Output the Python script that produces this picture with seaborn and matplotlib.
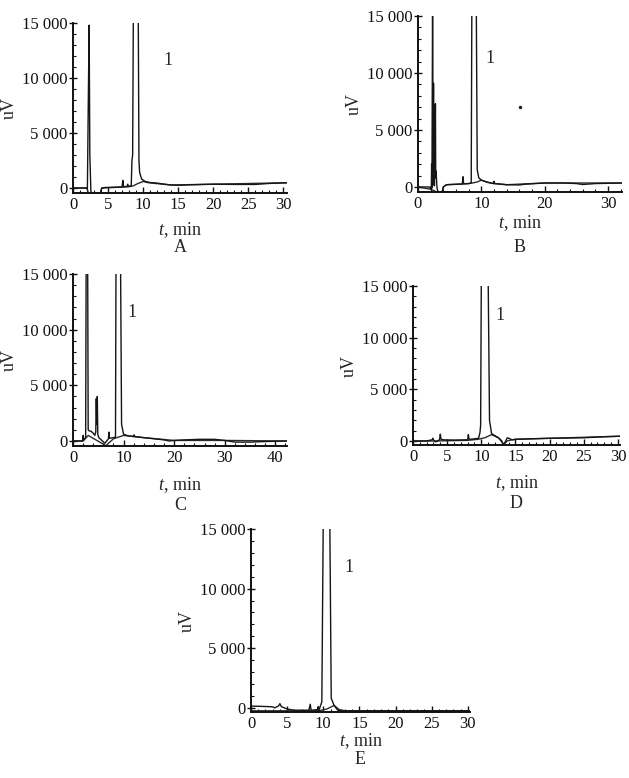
import matplotlib
matplotlib.use("Agg")
import matplotlib.pyplot as plt
import seaborn as sns
from matplotlib.ticker import MultipleLocator, FixedLocator

# ---- chromatogram traces (time in min, signal in uV) ----
# A
a_time = [0, 1.9, 2.05, 2.2, 2.3, 2.4, 2.55, 2.7, 3.9, 4.1, 4.5, 6.0, 7.0, 7.1, 7.2, 7.7, 7.8, 7.9,
          8.3, 8.4, 8.5, 8.6, 9.3, 9.4, 9.5, 9.8, 10.3, 11, 12, 13, 14, 15, 17, 20, 23, 26, 28, 30.5]
a_signal = [0, 0, -100, 9000, 14800, 3000, -300, -480, -480, 0, 50, 80, 100, 700, 120, 150, 350, 150,
            200, 2500, 3000, 16000, 16000, 2500, 1400, 800, 600, 500, 450, 350, 280, 250, 300, 350, 330, 330, 420, 480]
a_blank_time = [0, 2.0, 2.2, 2.6, 3.9, 4.1, 7.5, 8.0, 8.6, 9.2, 10.0, 10.6, 11.5, 14, 20, 30.5]
a_blank = [0, 0, -480, -480, -480, 0, 100, 120, 200, 400, 600, 500, 430, 280, 350, 480]

# B
b_time = [0, 1.9, 2.0, 2.1, 2.15, 2.2, 2.3, 2.4, 2.45, 2.5, 2.6, 2.75, 2.8, 2.85, 3.0, 3.2, 3.8, 4.0,
          4.5, 6.5, 7.0, 7.1, 7.2, 8.0, 8.4, 8.5, 9.2, 9.35, 9.6, 10, 11, 11.9, 12.0, 12.1, 14, 16, 17,
          20, 23, 25, 26, 28, 32.2]
b_signal = [0, 0, -200, -200, 2000, -100, 16000, 300, 9100, 200, 100, 7300, 800, 1400, -100, -480, -480, 0,
            200, 250, 260, 900, 280, 300, 350, 16000, 16000, 1500, 800, 600, 400, 300, 500, 300, 200, 180, 250,
            350, 350, 300, 220, 300, 350]
b_blank_time = [0, 2.0, 3.2, 3.8, 4.0, 4.5, 7.0, 8.0, 8.6, 9.4, 10.0, 10.8, 12, 14, 20, 32.2]
b_blank = [0, -200, -480, -480, 0, 200, 260, 300, 350, 450, 600, 450, 300, 200, 350, 350]
b_dot = (16.1, 7000)

# C
c_time = [0, 1.9, 2.0, 2.1, 2.5, 2.6, 2.9, 3.0, 3.2, 3.5, 4.0, 4.3, 4.5, 4.6, 4.7, 4.8, 4.9, 5.1, 6.3,
          7.0, 7.1, 7.2, 8.0, 8.4, 8.5, 9.4, 9.6, 10, 11, 12, 12.1, 12.2, 14, 16, 18, 19, 20, 22, 25, 28,
          30, 32, 35, 38, 42.3]
c_signal = [0, 0, 500, 100, 300, 16000, 16000, 1000, 900, 900, 700, 500, 800, 3800, 1500, 4000, 600, 300, -200,
            200, 800, 250, 300, 350, 16000, 16000, 1500, 600, 450, 400, 550, 400, 300, 200, 100, 0, 50, 100, 150, 150,
            50, -100, -100, -50, 0]
c_blank_time = [0, 2.0, 3.0, 6.5, 8.0, 9.0, 10.0, 11, 14, 20, 30, 42.3]
c_blank = [0, 0, 500, -420, 200, 350, 500, 450, 300, 50, 50, 0]

# D
d_time = [0, 2.0, 2.8, 2.9, 3.0, 3.3, 3.8, 3.9, 4.0, 4.1, 4.5, 6, 8.0, 8.1, 8.2, 8.3, 9.0, 9.6, 9.8,
          9.9, 10.0, 11.0, 11.2, 11.5, 12, 12.5, 13.0, 13.2, 13.5, 13.8, 14.2, 14.5, 15, 17, 20, 25, 28, 30.3]
d_signal = [0, 0, 100, 250, 100, -100, 50, 200, 650, 150, 100, 80, 100, 600, 200, 150, 200, 250, 800,
            1500, 16000, 16000, 2000, 700, 500, 300, 0, -380, -100, 300, 200, 100, 150, 200, 250, 300, 400, 450]
d_blank_time = [0, 8, 9.5, 10.5, 11.5, 12.5, 13.0, 13.3, 13.8, 14.5, 15, 20, 30.3]
d_blank = [-50, 50, 150, 300, 600, 300, -100, -350, 0, 100, 150, 250, 450]

# E
e_time = [0, 2.5, 3.0, 3.3, 3.8, 4.0, 4.2, 4.6, 5.0, 6.0, 8.0, 8.2, 8.3, 8.5, 9.2, 9.3, 9.4, 9.8, 10.0,
          10.9, 11.1, 11.5, 12, 13, 18, 25, 30.3]
e_signal = [150, 100, 80, 0, 150, 350, 100, 0, -100, -200, -200, 300, -150, -200, -150, 100, -200, 500, 16000,
            16000, 800, 200, -200, -250, -250, -250, -250]
e_blank_time = [0, 4, 6, 9.5, 10.5, 11.5, 12.2, 13, 30.3]
e_blank = [-250, -250, -250, -230, -100, 200, -150, -250, -250]

y_ticks = [0, 5000, 10000, 15000]
y_tick_labels = ["0", "5 000", "10 000", "15 000"]
panel_letters = ["A", "B", "C", "D", "E"]
peak_label = "1"

sns.set_style("ticks")
plt.rcParams["font.family"] = ["Liberation Serif", "DejaVu Serif"]
plt.rcParams["mathtext.fontset"] = "custom"
plt.rcParams["mathtext.rm"] = "Liberation Serif"
plt.rcParams["mathtext.it"] = "Liberation Serif:italic"

W, H = 629, 778
fig = plt.figure(figsize=(W / 100, H / 100), dpi=100)

# layout in pixels: left, right, top, bottom of the axes box
panels = [
    dict(t=a_time, v=a_signal, bt=a_blank_time, bv=a_blank, box=(73, 287, 23, 193), xmax=30.5, ymin=-450,
         major=5, minor=1, peak=(13.6, 11600), xl=37, let=55),
    dict(t=b_time, v=b_signal, bt=b_blank_time, bv=b_blank, box=(418, 622, 16, 192), xmax=32.2, ymin=-440,
         major=10, minor=2, peak=(11.4, 11300), xl=31, let=55),
    dict(t=c_time, v=c_signal, bt=c_blank_time, bv=c_blank, box=(73, 287, 274, 446), xmax=42.3, ymin=-450,
         major=10, minor=2, peak=(11.7, 11500), xl=39, let=60),
    dict(t=d_time, v=d_signal, bt=d_blank_time, bv=d_blank, box=(413, 620, 286, 445), xmax=30.3, ymin=-400,
         major=5, minor=1, peak=(12.7, 12100), xl=38, let=58),
    dict(t=e_time, v=e_signal, bt=e_blank_time, bv=e_blank, box=(251, 470, 529, 712), xmax=30.3, ymin=-350,
         major=5, minor=1, peak=(13.5, 11800), xl=29, let=48),
]

for i, p in enumerate(panels):
    l, r, t, b = p["box"]
    ax = fig.add_axes([l / W, 1 - b / H, (r - l) / W, (b - t) / H])
    sns.lineplot(x=p["bt"], y=p["bv"], ax=ax, color="#2b2b2b", lw=1.0, sort=False, estimator=None)
    sns.lineplot(x=p["t"], y=p["v"], ax=ax, color="#151515", lw=1.0, sort=False, estimator=None)
    if i == 1:
        ax.plot(b_dot[0], b_dot[1], "o", color="#222222", ms=1.5)

    ax.set_xlim(0, p["xmax"])
    ax.set_ylim(p["ymin"], 15000)
    ax.xaxis.set_major_locator(MultipleLocator(p["major"]))
    ax.xaxis.set_minor_locator(MultipleLocator(p["minor"]))
    ax.yaxis.set_major_locator(FixedLocator(y_ticks))
    ax.set_yticklabels(y_tick_labels)
    ax.yaxis.set_minor_locator(MultipleLocator(1000))
    ax.tick_params(axis="both", which="major", direction="in", length=4, width=1.0,
                   labelsize=12, colors="#111111", pad=3)
    ax.tick_params(axis="both", which="minor", direction="in", length=2, width=0.8, colors="#111111")
    ax.tick_params(axis="y", which="major", direction="inout", length=6, pad=1)
    sns.despine(ax=ax)
    for s in ["left", "bottom"]:
        ax.spines[s].set_linewidth(1.4)
        ax.spines[s].set_color("#111111")

    ax.set_xlabel("")
    ax.set_ylabel("uV", fontsize=13, labelpad=3)
    ax.annotate(r"$t$, min", xy=(0.5, 0), xycoords="axes fraction", xytext=(0, -p["xl"] * 0.72),
                textcoords="offset points", ha="center", va="center", fontsize=13)
    ax.annotate(panel_letters[i], xy=(0.5, 0), xycoords="axes fraction", xytext=(0, -p["let"] * 0.72),
                textcoords="offset points", ha="center", va="center", fontsize=13)
    ax.text(p["peak"][0], p["peak"][1], peak_label, ha="center", va="center", fontsize=13)

fig.savefig("out.png", dpi=100)
